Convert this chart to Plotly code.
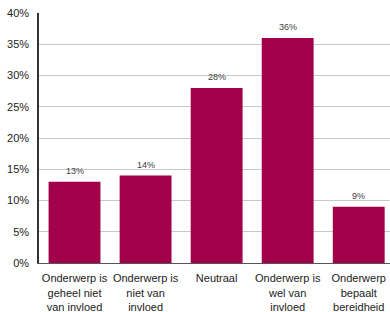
import plotly.graph_objects as go

categories = ["Onderwerp is<br>geheel niet<br>van invloed", "Onderwerp is<br>niet van<br>invloed",
              "Neutraal", "Onderwerp is<br>wel van<br>invloed", "Onderwerp<br>bepaalt<br>bereidheid"]
values = [13, 14, 28, 36, 9]
labels = ["13%", "14%", "28%", "36%", "9%"]
tick_vals = [0, 5, 10, 15, 20, 25, 30, 35, 40]
tick_text = ["0%", "5%", "10%", "15%", "20%", "25%", "30%", "35%", "40%"]

xs = list(range(len(categories)))
fig = go.Figure(go.Bar(
    x=xs, y=values,
    marker=dict(color="#A2004B", line=dict(width=0)),
    hoverinfo="skip",
))
for x, v, t in zip(xs, values, labels):
    fig.add_annotation(x=x, y=v, text=t, showarrow=False, yanchor="bottom", yshift=4,
                       font=dict(family="Liberation Sans, Arial", size=9, color="#404040"))
fig.update_layout(
    width=390, height=312,
    margin=dict(l=38.5, r=0, t=13, b=49),
    paper_bgcolor="white", plot_bgcolor="white",
    bargap=0.27, showlegend=False,
    font=dict(family="Liberation Sans, Arial", size=11, color="#222222"),
    xaxis=dict(range=[-0.5, 4.44], tickmode="array", tickvals=xs,
               ticktext=categories, showline=True, linecolor="#555555", linewidth=1,
               ticks="", showgrid=False, zeroline=False, automargin=False,
               tickfont=dict(size=11, color="#222222"), ticklabelstandoff=5),
    yaxis=dict(range=[0, 40], tickmode="array", tickvals=tick_vals, ticktext=tick_text,
               showline=True, linecolor="#333333", linewidth=1.5, ticks="",
               showgrid=True, gridcolor="#C8C8C8", gridwidth=1, zeroline=False,
               automargin=False,
               tickfont=dict(size=11, color="#222222"), ticklabelstandoff=6),
)
fig.write_html("out.html", config={"displayModeBar": False},
               post_script="document.body.style.margin='0';document.body.style.overflow='hidden';")
